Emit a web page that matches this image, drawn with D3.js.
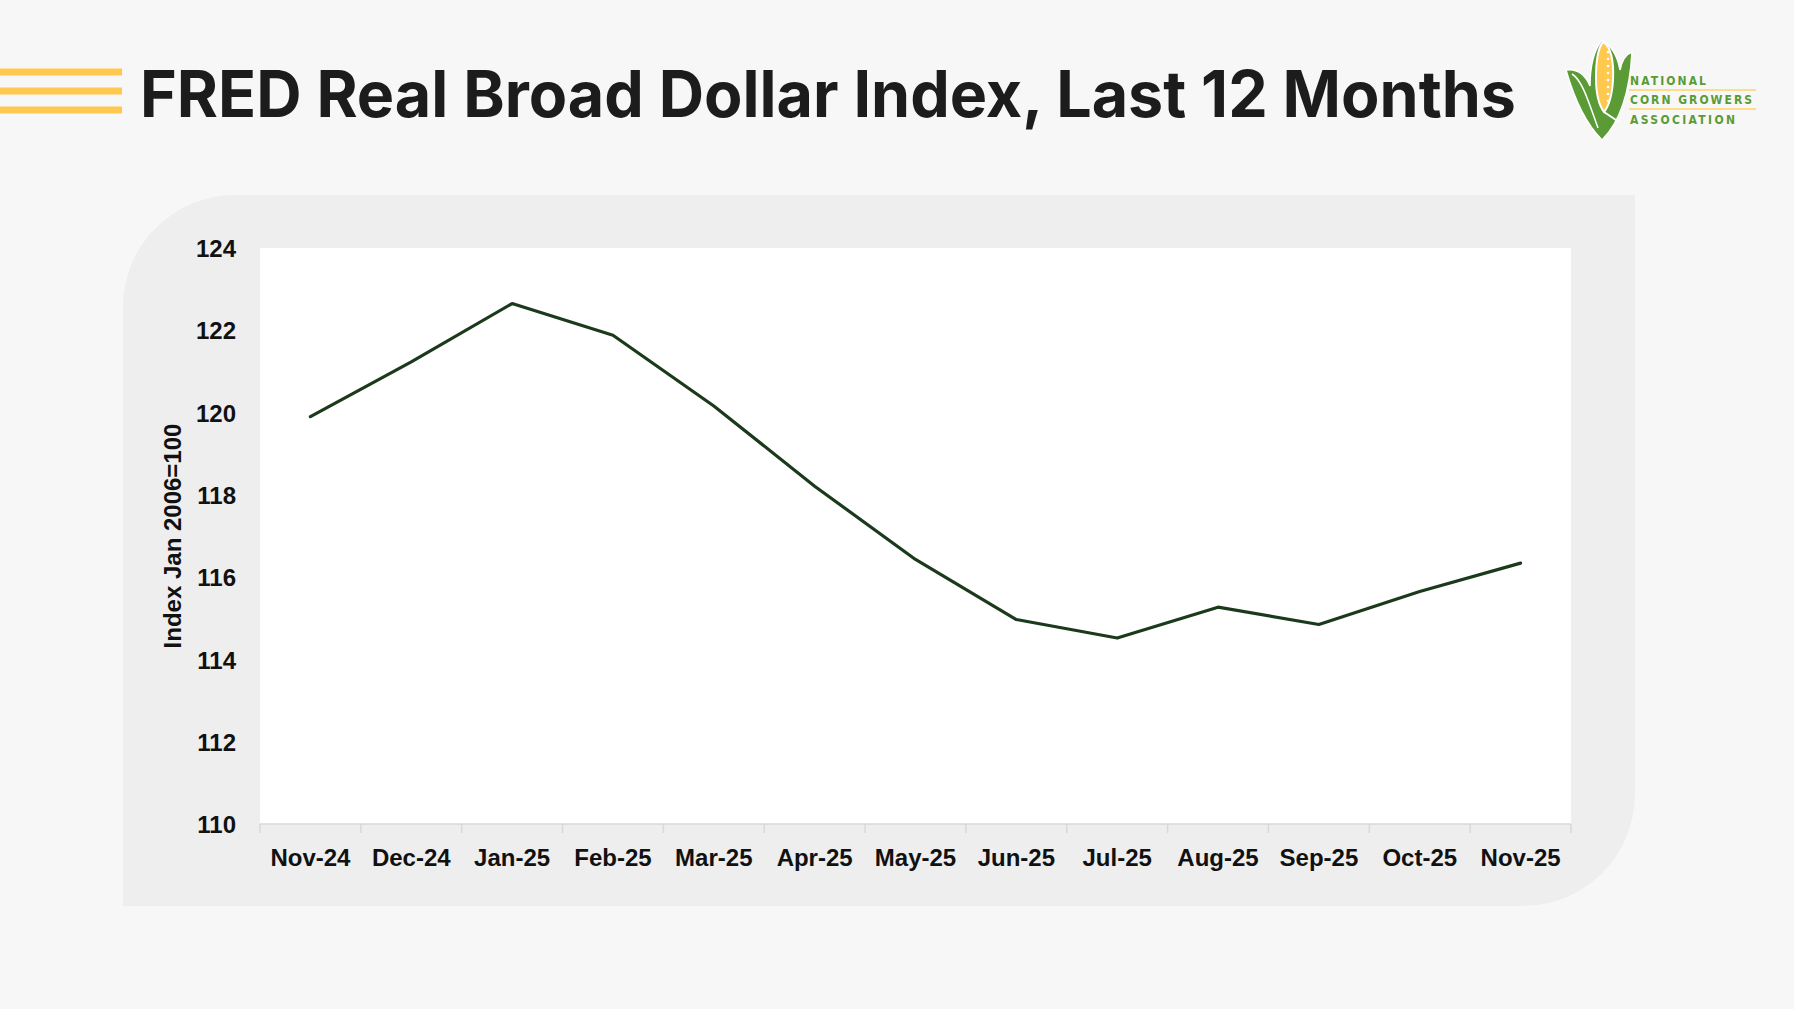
<!DOCTYPE html>
<html lang="en">
<head>
  <meta charset="UTF-8">
  <title>FRED Real Broad Dollar Index, Last 12 Months</title>
  <script src="https://d3js.org/d3.v7.min.js"></script>
  <style>
    html, body {
      margin: 0;
      padding: 0;
      background: #f7f7f7;
    }
    svg {
      display: block;
    }
    .tick-label {
      font-family: "Liberation Sans", Arial, sans-serif;
      font-weight: bold;
      font-size: 24px;
      fill: #111;
    }
  </style>
</head>
<body>
  <script>
    // Monthly data
    const months = ["Nov-24", "Dec-24", "Jan-25", "Feb-25", "Mar-25", "Apr-25", "May-25",
                    "Jun-25", "Jul-25", "Aug-25", "Sep-25", "Oct-25", "Nov-25"];
    const indexValues = [119.90, 121.23, 122.65, 121.88, 120.16, 118.21, 116.43,
                         114.97, 114.52, 115.27, 114.85, 115.65, 116.34];
    const yTicks = [110, 112, 114, 116, 118, 120, 122, 124];

    const W = 1794, H = 1009;
    const plot = { left: 260, top: 248, right: 1571, bottom: 824 };

    const svg = d3.select("body")
      .append("svg")
      .attr("width", W)
      .attr("height", H);

    svg.append("rect")
      .attr("width", W)
      .attr("height", H)
      .attr("fill", "#f7f7f7");

    // Header: yellow stripes + title
    [72, 91, 110].forEach(y => {
      svg.append("rect")
        .attr("x", 0).attr("y", y - 3.5)
        .attr("width", 122).attr("height", 7)
        .attr("fill", "#ffc94f");
    });

    svg.append("text")
      .attr("x", 140)
      .attr("y", 117)
      .attr("textLength", 1376)
      .attr("lengthAdjust", "spacingAndGlyphs")
      .style("font-family", "Inter, 'Noto Sans', sans-serif")
      .style("font-weight", 700)
      .style("font-size", "64px")
      .style("fill", "#1c1c1c")
      .text("FRED Real Broad Dollar Index, Last 12 Months");

    // Logo (simplified corn ear)
    const logo = svg.append("g");
    // husk silhouette
    logo.append("path")
      .attr("d", "M1566,70 C1578,68 1586,76 1590,86 C1590,66 1594,50 1602,40 C1612,46 1618,58 1620,70 C1622,60 1626,54 1632,52 C1630,90 1622,120 1602,140 C1586,124 1574,98 1566,70 Z")
      .attr("fill", "#5a9b35")
      .attr("stroke", "#ffffff")
      .attr("stroke-width", 1.5);
    // cob
    logo.append("path")
      .attr("d", "M1603,42 C1611,46 1614,62 1613,80 C1612,96 1609,106 1604,112 C1598,104 1596,92 1596,78 C1596,60 1598,48 1603,42 Z")
      .attr("fill", "#ffc94f")
      .attr("stroke", "#ffffff")
      .attr("stroke-width", 2);
    const dots = d3.range(8).map(i => [1608, 52 + i * 7]);
    logo.selectAll(".kernel")
      .data(dots)
      .enter()
      .append("circle")
      .attr("class", "kernel")
      .attr("cx", d => d[0]).attr("cy", d => d[1])
      .attr("r", 1.3)
      .attr("fill", "#ffffff");
    // white inner line on the husk
    logo.append("path")
      .attr("d", "M1572,74 C1582,80 1588,100 1598,128")
      .attr("fill", "none")
      .attr("stroke", "#ffffff")
      .attr("stroke-width", 1.5);
    logo.append("path")
      .attr("d", "M1604,112 C1610,116 1616,120 1619,122")
      .attr("fill", "none")
      .attr("stroke", "#ffffff")
      .attr("stroke-width", 2);

    [90, 109].forEach(y => {
      logo.append("line")
        .attr("x1", 1629).attr("x2", 1756)
        .attr("y1", y).attr("y2", y)
        .attr("stroke", "#ffd466")
        .attr("stroke-width", 1.5);
    });
    [["NATIONAL", 85, 76], ["CORN GROWERS", 104, 122], ["ASSOCIATION", 124, 105]].forEach(([t, y, len]) => {
      logo.append("text")
        .attr("x", 1630).attr("y", y)
        .attr("textLength", len)
        .attr("lengthAdjust", "spacing")
        .style("font-family", "'DejaVu Sans Condensed', 'Liberation Sans Narrow', sans-serif")
        .style("font-weight", "bold")
        .style("font-size", "12px")
        .style("fill", "#5a9b35")
        .text(t);
    });

    // Panel with two rounded corners
    const p = { x0: 123, y0: 195, x1: 1635, y1: 906, r: 112 };
    svg.append("path")
      .attr("d", `M${p.x0},${p.y0 + p.r} A${p.r},${p.r} 0 0 1 ${p.x0 + p.r},${p.y0}
                  L${p.x1},${p.y0} L${p.x1},${p.y1 - p.r}
                  A${p.r},${p.r} 0 0 1 ${p.x1 - p.r},${p.y1} L${p.x0},${p.y1} Z`)
      .attr("fill", "#eeeeee");

    svg.append("rect")
      .attr("x", plot.left).attr("y", plot.top)
      .attr("width", plot.right - plot.left)
      .attr("height", plot.bottom - plot.top)
      .attr("fill", "#ffffff");

    // Scales
    const x = d3.scaleBand()
      .domain(months)
      .range([plot.left, plot.right])
      .padding(0);

    const y = d3.scaleLinear()
      .domain([110, 124])
      .range([plot.bottom, plot.top]);

    // X axis: baseline, boundary ticks, labels
    const xAxis = svg.append("g");
    xAxis.append("line")
      .attr("x1", plot.left).attr("x2", plot.right)
      .attr("y1", plot.bottom).attr("y2", plot.bottom)
      .attr("stroke", "#d9d9d9")
      .attr("stroke-width", 1.5);

    const boundaries = months.map(m => x(m)).concat([x(months[months.length - 1]) + x.bandwidth()]);
    xAxis.selectAll(".xtick")
      .data(boundaries)
      .enter()
      .append("line")
      .attr("class", "xtick")
      .attr("x1", d => d).attr("x2", d => d)
      .attr("y1", plot.bottom).attr("y2", plot.bottom + 9)
      .attr("stroke", "#d9d9d9")
      .attr("stroke-width", 1.5);

    xAxis.selectAll(".xlabel")
      .data(months)
      .enter()
      .append("text")
      .attr("class", "tick-label xlabel")
      .attr("x", d => x(d) + x.bandwidth() / 2)
      .attr("y", 866)
      .attr("text-anchor", "middle")
      .text(d => d);

    // Y axis labels
    const yAxis = svg.append("g")
      .attr("transform", `translate(${plot.left}, 0)`)
      .call(d3.axisLeft(y).tickValues(yTicks).tickSize(0).tickPadding(24));
    yAxis.select(".domain").remove();
    yAxis.selectAll("text")
      .attr("class", "tick-label")
      .attr("fill", null)
      .attr("font-size", null)
      .attr("font-family", null)
      .attr("dy", "0.36em");

    svg.append("text")
      .attr("class", "tick-label")
      .attr("transform", `translate(181, ${(plot.top + plot.bottom) / 2}) rotate(-90)`)
      .attr("text-anchor", "middle")
      .text("Index Jan 2006=100");

    // Line
    const line = d3.line()
      .x((d, i) => x(months[i]) + x.bandwidth() / 2)
      .y(d => y(d));

    svg.append("path")
      .datum(indexValues)
      .attr("d", line)
      .attr("fill", "none")
      .attr("stroke", "#1b3a1b")
      .attr("stroke-width", 3.2)
      .attr("stroke-linejoin", "round")
      .attr("stroke-linecap", "round");
  </script>
</body>
</html>
